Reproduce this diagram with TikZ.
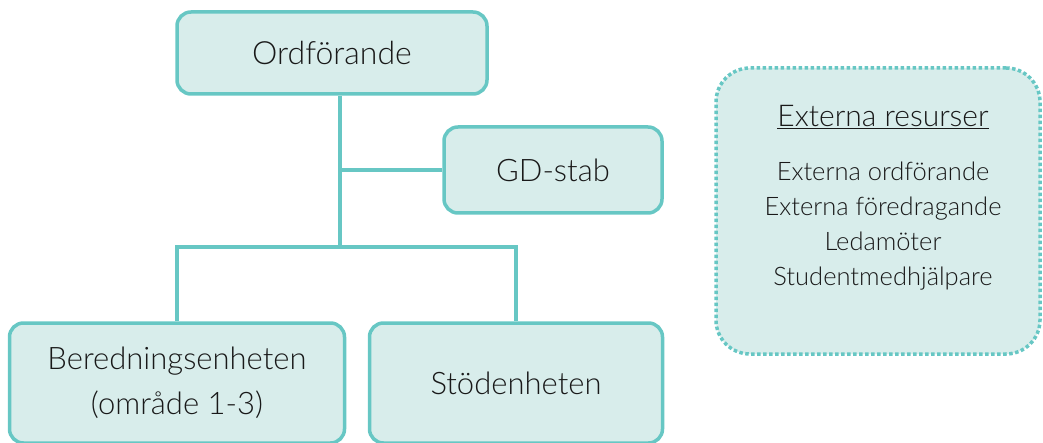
\documentclass[tikz,border=0pt]{standalone}
\usepackage{fontspec}
\setmainfont{Lato Light}
\definecolor{boxfill}{RGB}{216,237,235}
\definecolor{boxline}{RGB}{103,199,196}
\definecolor{txt}{RGB}{25,25,25}
\begin{document}
\begin{tikzpicture}[x=1pt,y=-1pt,
  orgbox/.style={draw=boxline, fill=boxfill, line width=3.5pt, rounded corners=14pt, align=center, text=txt, inner sep=0pt},
  conn/.style={draw=boxline, line width=3.5pt}]
\useasboundingbox (0,0) rectangle (1043,443);
\node[orgbox, minimum width=310pt, minimum height=82pt, font=\fontsize{32}{38}\selectfont] (ord) at (332,53) {Ordförande};
\node[orgbox, minimum width=218pt, minimum height=86pt, font=\fontsize{31}{36}\selectfont] (gd) at (553,170) {GD-stab};
\node[orgbox, minimum width=335pt, minimum height=120pt, font=\fontsize{31}{45}\selectfont] (ber) at (177,383) {Beredningsenheten\\(område 1-3)};
\node[orgbox, minimum width=293pt, minimum height=120pt, font=\fontsize{31}{36}\selectfont] (sto) at (516,383) {Stödenheten};
\node[draw=boxline, fill=boxfill, line width=3.5pt, dash pattern=on 3.5pt off 2.5pt, rounded corners=34pt, minimum width=324pt, minimum height=286pt, text=txt, align=center, inner sep=0pt] (ext) at (878,211) {};
\node[text=txt, font=\fontsize{30}{34}\selectfont] (exttitle) at (883,117) {\underline{Externa resurser}};
\node[text=txt, align=center, font=\fontsize{25.5}{35}\selectfont] (extlist) at (883,226) {Externa ordförande\\Externa föredragande\\Ledamöter\\Studentmedhjälpare};
\coordinate (trunk) at (340,247);
\draw[conn] (ord.south -| trunk) -- (trunk);
\draw[conn] (gd.west) -- (gd.west -| trunk);
\draw[conn] (ber.north) |- (trunk) -| (sto.north);
\end{tikzpicture}
\end{document}
